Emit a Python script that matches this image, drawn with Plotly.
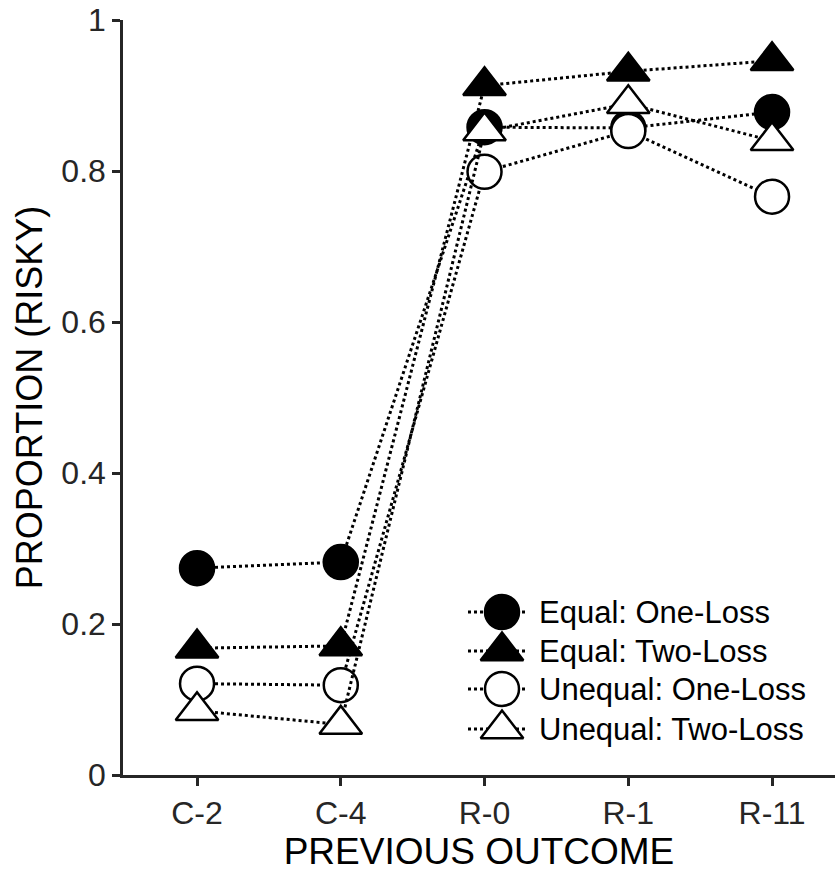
import plotly.graph_objects as go

# ---- data ----
categories = ["C-2", "C-4", "R-0", "R-1", "R-11"]
equal_one_loss = [0.274, 0.282, 0.858, 0.857, 0.878]
equal_two_loss = [0.168, 0.171, 0.913, 0.932, 0.946]
unequal_one_loss = [0.121, 0.119, 0.799, 0.853, 0.766]
unequal_two_loss = [0.085, 0.067, 0.853, 0.889, 0.840]
series_names = ["Equal: One-Loss", "Equal: Two-Loss",
                "Unequal: One-Loss", "Unequal: Two-Loss"]
y_tick_values = [0, 0.2, 0.4, 0.6, 0.8, 1]
y_tick_labels = ["0", "0.2", "0.4", "0.6", "0.8", "1"]

series_values = [equal_one_loss, equal_two_loss, unequal_one_loss, unequal_two_loss]
symbols = ["circle", "triangle-up", "circle", "triangle-up"]
fills = ["black", "black", "white", "white"]
sizes = {"circle": 34, "triangle-up": 37}

FONT = "Liberation Sans, Arial, sans-serif"
AX = "#262626"

fig = go.Figure()
for name, vals, sym, fc in zip(series_names, series_values, symbols, fills):
    fig.add_trace(go.Scatter(
        x=categories, y=vals, mode="lines+markers", name=name,
        line=dict(color="black", width=3, dash="dot"),
        marker=dict(symbol=sym, size=sizes[sym], color=fc,
                    line=dict(color="black", width=2.5)),
        showlegend=False, cliponaxis=False,
    ))

# ---- custom legend (pixel-like overlay axes) ----
leg_rows = [612, 651, 689, 729]
for name, sym, fc, ry in zip(series_names, symbols, fills, leg_rows):
    fig.add_trace(go.Scatter(
        x=[468, 528], y=[ry, ry], mode="lines", xaxis="x2", yaxis="y2",
        line=dict(color="black", width=3, dash="dot"), showlegend=False,
        hoverinfo="skip"))
    fig.add_trace(go.Scatter(
        x=[502], y=[ry], mode="markers", xaxis="x2", yaxis="y2",
        marker=dict(symbol=sym, size=sizes[sym], color=fc,
                    line=dict(color="black", width=2.5)),
        showlegend=False, hoverinfo="skip", cliponaxis=False))
    fig.add_annotation(x=537, y=ry, xref="x2", yref="y2", text=name,
                       showarrow=False, xanchor="left", yanchor="middle",
                       font=dict(family=FONT, size=31, color="black"))

fig.update_layout(
    width=835, height=877,
    margin=dict(l=123, r=0, t=20, b=102),
    paper_bgcolor="white", plot_bgcolor="white",
    showlegend=False,
    xaxis=dict(
        type="category", categoryorder="array", categoryarray=categories,
        range=[-0.515, 4.438],
        showgrid=False, zeroline=False, showline=True,
        linecolor=AX, linewidth=2.5,
        ticks="outside", ticklen=8, tickwidth=2.5, tickcolor=AX,
        tickfont=dict(family=FONT, size=32, color=AX),
        title=dict(text="PREVIOUS OUTCOME", standoff=8,
                   font=dict(family=FONT, size=37, color="black")),
    ),
    yaxis=dict(
        range=[0, 1], tickvals=y_tick_values, ticktext=y_tick_labels,
        showgrid=False, zeroline=False, showline=True,
        linecolor=AX, linewidth=2.5,
        ticks="outside", ticklen=8, tickwidth=2.5, tickcolor=AX,
        tickfont=dict(family=FONT, size=32, color=AX),
        title=dict(text="PROPORTION (RISKY)", standoff=8,
                   font=dict(family=FONT, size=36, color="black")),
    ),
    xaxis2=dict(overlaying="x", range=[123, 835], visible=False),
    yaxis2=dict(overlaying="y", range=[775, 20], visible=False),
)

fig.write_html("out.html")
